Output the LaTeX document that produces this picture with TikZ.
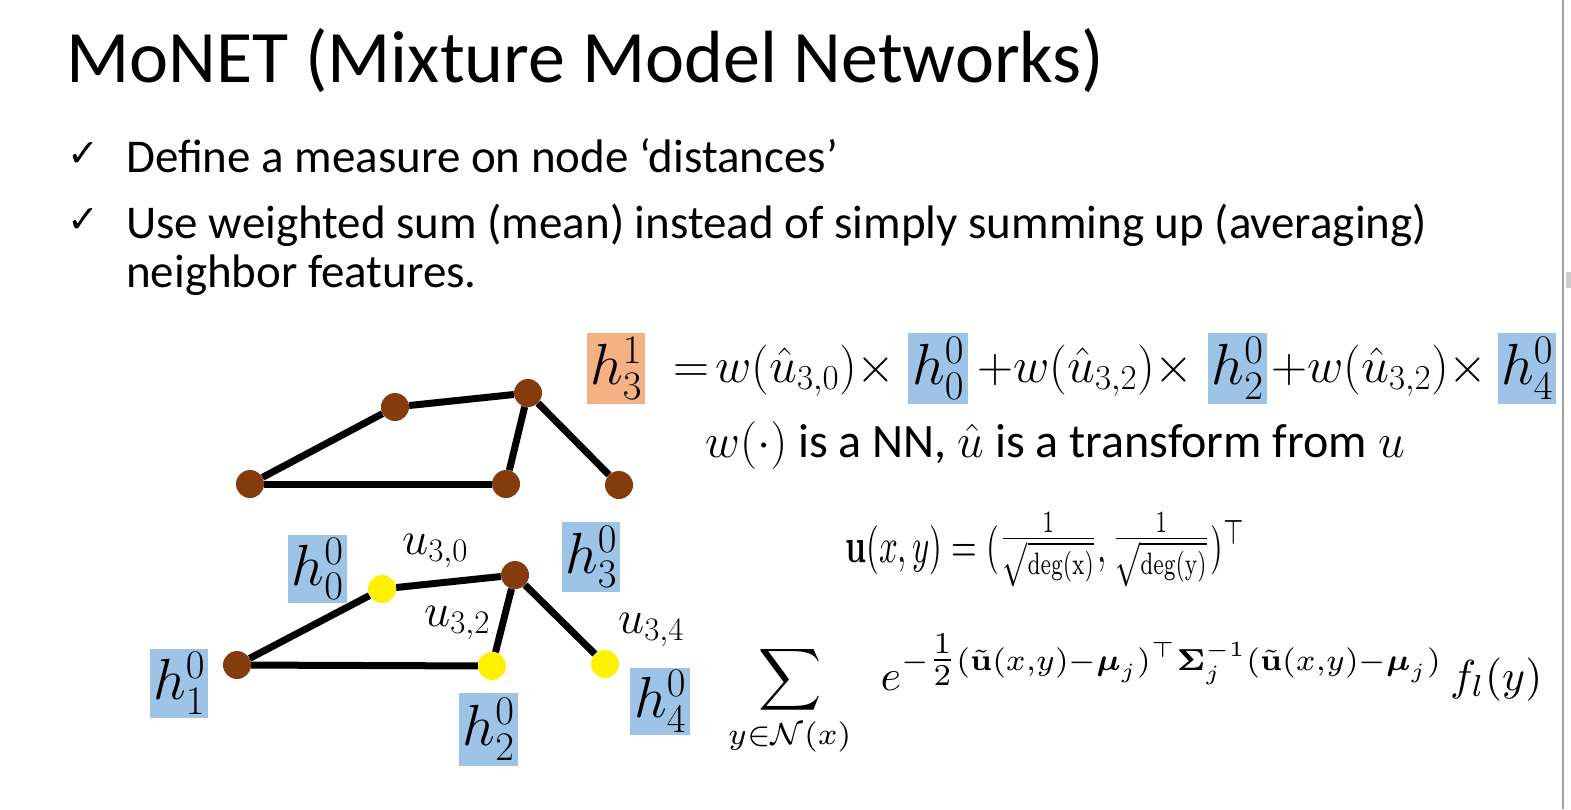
\RequirePackage{fix-cm}
\documentclass[tikz,border=0pt]{standalone}
\usepackage{amsmath,amssymb}
\usepackage{graphicx}
\usepackage[no-math]{fontspec}
\setmainfont{Carlito}
\newfontfamily\dejavu{DejaVu Sans}
\definecolor{nodebrown}{HTML}{843C0C}
\definecolor{hblue}{HTML}{9DC3E6}
\definecolor{horange}{HTML}{F4B183}
\definecolor{scrollgrey}{HTML}{A0A0A0}
\definecolor{scrollthumb}{HTML}{CDCDCD}
\newcommand{\sfr}[1]{\vcenter{\hbox{\scalebox{0.9}{$\frac{1}{\sqrt{\mathrm{#1}}}$}}}}
\begin{document}
\begin{tikzpicture}[x=1pt,y=-1pt,
  bnode/.style={circle, fill=nodebrown, minimum size=28pt, inner sep=0pt},
  ynode/.style={circle, fill=yellow, minimum size=28pt, inner sep=0pt},
  edge/.style={line width=7pt, black},
  hbox/.style={fill=hblue, inner sep=0pt, font=\fontsize{58}{64}\selectfont},
  obox/.style={fill=horange, inner sep=0pt, font=\fontsize{58}{64}\selectfont},
  ulabel/.style={inner sep=0pt, font=\fontsize{47}{52}\selectfont},
  eqpart/.style={anchor=base west, inner sep=0pt, font=\fontsize{50}{56}\selectfont},
  bullettext/.style={anchor=base west, inner sep=0pt, font=\fontsize{47}{52}\selectfont},
  checkmk/.style={anchor=base west, inner sep=0pt, font=\dejavu\fontsize{38}{42}\selectfont}]
\fill[white] (0,0) rectangle (1571,809);
\useasboundingbox (0,0) rectangle (1571,809);
% scrollbar
\draw[scrollgrey, line width=1.5pt] (1563,0) -- (1563,809);
\fill[scrollthumb] (1566,272) rectangle (1571,288);
% title and bullets
\node[anchor=base west, inner sep=0pt, font=\fontsize{74}{80}\selectfont] (title) at (66,82) {MoNET (Mixture Model Networks)};
\node[checkmk] (chk1) at (67,166) {✓};
\node[checkmk] (chk2) at (67,232) {✓};
\node[bullettext] (b1) at (126,172) {Define a measure on node ‘distances’};
\node[bullettext] (b2) at (126,238) {Use weighted sum (mean) instead of simply summing up (averaging)};
\node[bullettext] (b3) at (126,287) {neighbor features.};
% top graph
\node[bnode] (a) at (250,484) {};
\node[bnode] (b) at (395,407) {};
\node[bnode] (c) at (528,393) {};
\node[bnode] (d) at (506,484) {};
\node[bnode] (e) at (619,485) {};
\draw[edge] (a) -- (b);
\draw[edge] (b) -- (c);
\draw[edge] (c) -- (d);
\draw[edge] (a) -- (d);
\draw[edge] (c) -- (e);
% bottom graph
\node[bnode] (f) at (237,665) {};
\node[ynode] (g) at (382,589) {};
\node[bnode] (h) at (515,575) {};
\node[ynode] (i) at (492,666) {};
\node[ynode] (j) at (605,664) {};
\draw[edge] (f) -- (g);
\draw[edge] (g) -- (h);
\draw[edge] (h) -- (i);
\draw[edge] (f) -- (i);
\draw[edge] (h) -- (j);
% labels bottom graph
\node[hbox, minimum width=59pt, minimum height=68pt] (lb0) at (317.5,569) {$h_0^0$};
\node[hbox, minimum width=58pt, minimum height=70pt] (lb3) at (591,557) {$h_3^0$};
\node[hbox, minimum width=58pt, minimum height=69pt] (lb1) at (179,683.5) {$h_1^0$};
\node[hbox, minimum width=59pt, minimum height=73pt] (lb2) at (488.5,729.5) {$h_2^0$};
\node[hbox, minimum width=60pt, minimum height=67pt] (lb4) at (660,701.5) {$h_4^0$};
\node[ulabel] (u30) at (435,551) {$u_{3,0}$};
\node[ulabel] (u32) at (457,623) {$u_{3,2}$};
\node[ulabel] (u34) at (651,630) {$u_{3,4}$};
% formula line 1
\node[obox, minimum width=58pt, minimum height=71pt] (f31) at (616,368.5) {$h_3^1$};
\node[eqpart] (eq) at (673,382) {$=$};
\node[eqpart] (p1) at (715,382) {$w(\hat u_{3,0}){\times}$};
\node[hbox, minimum width=60pt, minimum height=71pt] (f00) at (938,368.5) {$h_0^0$};
\node[eqpart] (p2) at (977,382) {${+}w(\hat u_{3,2}){\times}$};
\node[hbox, minimum width=59pt, minimum height=71pt] (f20) at (1237.5,368.5) {$h_2^0$};
\node[eqpart] (p3) at (1271,382) {${+}w(\hat u_{3,2}){\times}$};
\node[hbox, minimum width=58pt, minimum height=71pt] (f40) at (1527,368.5) {$h_4^0$};
\node[anchor=base west, inner sep=0pt, font=\fontsize{48}{54}\selectfont] (note) at (705,457) {$w(\cdot)$ is a NN, $\hat u$ is a transform from $u$};
% u formula
\node[anchor=north west, inner sep=0pt] (uf) at (845,512) {\resizebox*{400pt}{75pt}{$\mathbf{u}(x,y) = (\sfr{deg(x)}, \sfr{deg(y)})^\top$}};
% sum formula
\node[anchor=north west, inner sep=0pt] (sf) at (728,634) {\resizebox*{814pt}{122pt}{$\displaystyle\sum_{y\in\mathcal{N}(x)}\enspace e^{-\tfrac{1}{2}(\tilde{\mathbf{u}}(x,y)-\boldsymbol{\mu}_j)^\top\boldsymbol{\Sigma}_j^{-1}(\tilde{\mathbf{u}}(x,y)-\boldsymbol{\mu}_j)}\, f_l(y)$}};
\end{tikzpicture}
\end{document}
